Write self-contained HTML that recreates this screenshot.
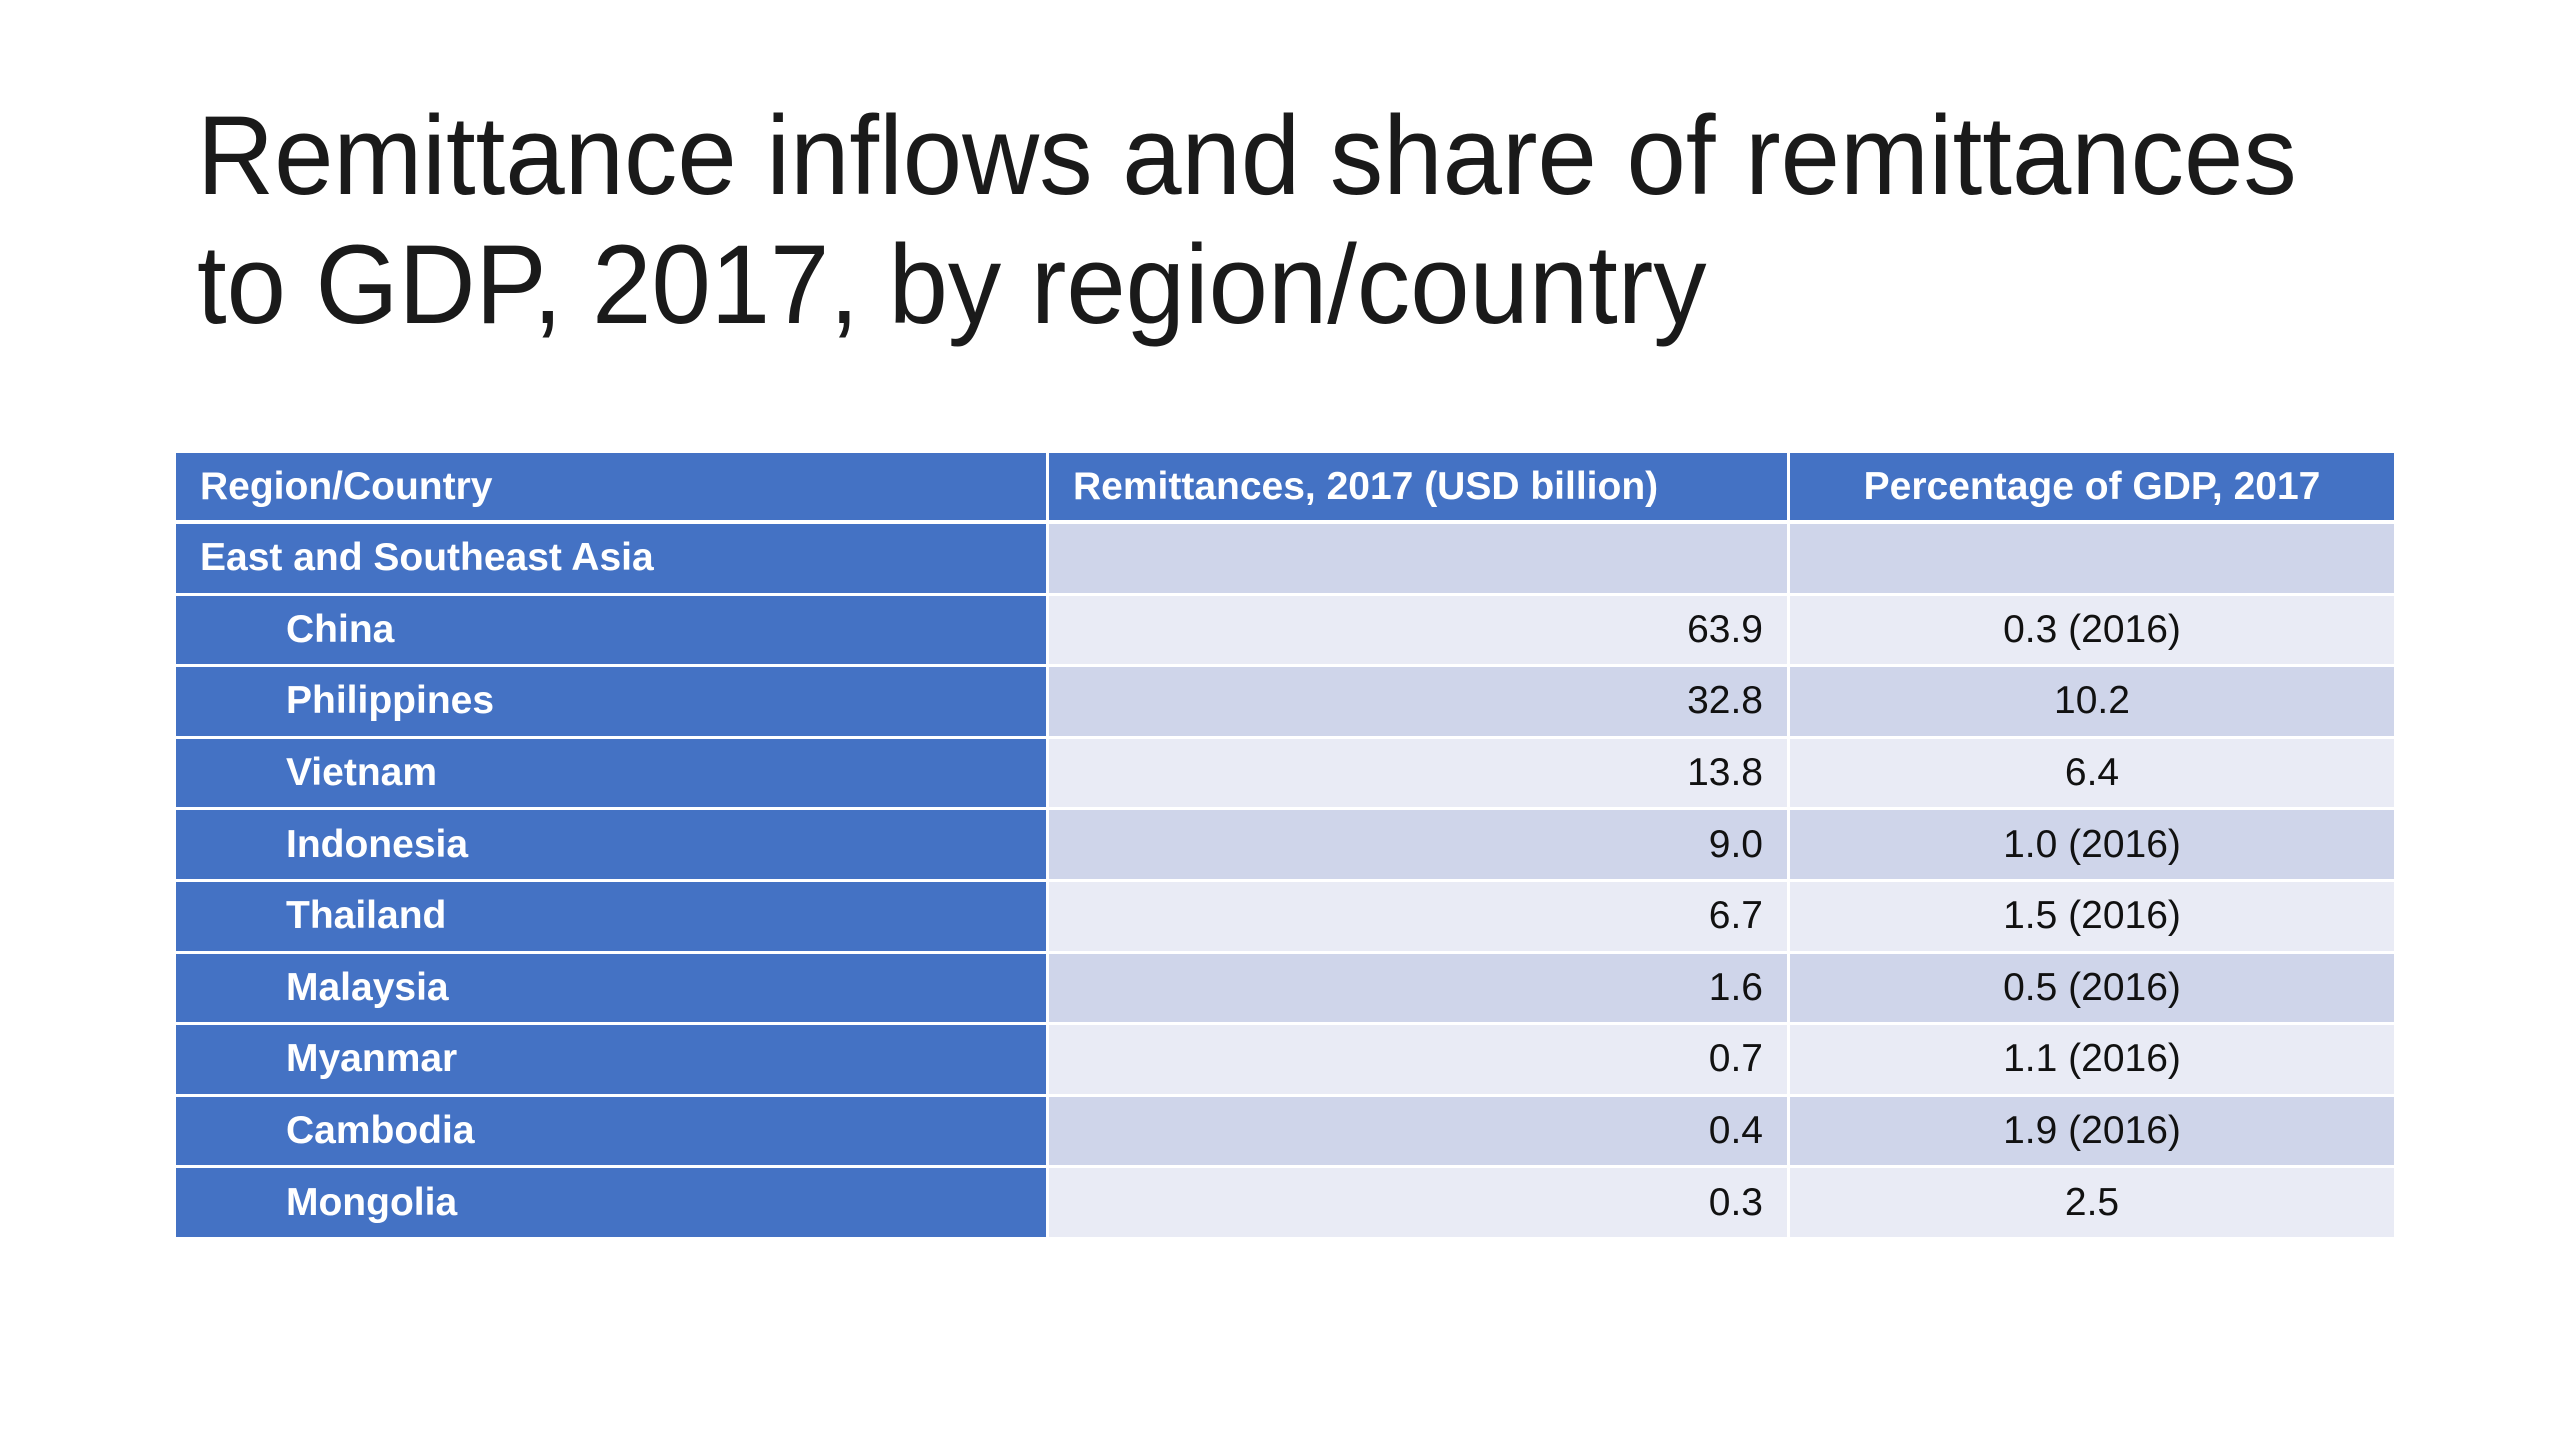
<!DOCTYPE html>
<html><head><meta charset="utf-8">
<style>
html,body{margin:0;padding:0;background:#fff;}
#page{position:relative;width:2560px;height:1440px;overflow:hidden;background:#fff;font-family:"Liberation Sans",sans-serif;}
.title{position:absolute;left:197px;font-size:112px;color:#1a1a1a;white-space:nowrap;transform-origin:0 0;line-height:1;}
.cell{position:absolute;box-sizing:border-box;display:flex;align-items:center;font-size:39px;white-space:nowrap;}
.hdr{background:#4472C4;color:#fff;font-weight:bold;}
.lab{background:#4472C4;color:#fff;font-weight:bold;}
.odd{background:#CFD5EA;color:#111;}
.even{background:#E9EBF5;color:#111;}
</style></head>
<body>
<div id="page">
  <div class="title" id="t1" style="top:100px">Remittance inflows and share of remittances</div>
  <div class="title" id="t2" style="top:229px">to GDP, 2017, by region/country</div>
  <div id="table"></div>
</div>
<script>
const headers = ["Region/Country","Remittances, 2017 (USD billion)","Percentage of GDP, 2017"];
const countries = ["East and Southeast Asia","China","Philippines","Vietnam","Indonesia","Thailand","Malaysia","Myanmar","Cambodia","Mongolia"];
const remittances = ["","63.9","32.8","13.8","9.0","6.7","1.6","0.7","0.4","0.3"];
const gdpShare = ["","0.3 (2016)","10.2","6.4","1.0 (2016)","1.5 (2016)","0.5 (2016)","1.1 (2016)","1.9 (2016)","2.5"];

function fit(id,w){const e=document.getElementById(id);const s=w/e.scrollWidth;e.style.transform='scale('+s+',1)';}
fit('t1',2100);fit('t2',1510);

const tbl=document.getElementById('table');
const colX=[176,1049,1790,2394];
const top0=453, hdrH=67, rowH=71.6, gap=3;
function cell(x,y,w,h,cls,text,align,pad,name){
  const d=document.createElement('div');
  d.className='cell '+cls;
  d.style.left=x+'px';d.style.top=y+'px';d.style.width=w+'px';d.style.height=h+'px';
  d.style.justifyContent=align;
  if(align==='flex-start')d.style.paddingLeft=pad+'px';
  if(align==='flex-end')d.style.paddingRight=pad+'px';
  d.textContent=text;
  
  
  tbl.appendChild(d);
}
// header
cell(colX[0],top0,colX[1]-colX[0]-gap,hdrH,'hdr',headers[0],'flex-start',24,'header-region-country');
cell(colX[1],top0,colX[2]-colX[1]-gap,hdrH,'hdr',headers[1],'flex-start',24,'header-remittances');
cell(colX[2],top0,colX[3]-colX[2],hdrH,'hdr',headers[2],'center',0,'header-gdp-share');
const bodyTop=top0+hdrH+4;
for(let i=0;i<countries.length;i++){
  const y=bodyTop+i*rowH;
  const h=rowH-gap;
  const shade=(i%2===0)?'odd':'even';
  const indent=i===0?24:110;
  const slug=countries[i].toLowerCase().replace(/[^a-z]+/g,'-');
  cell(colX[0],y,colX[1]-colX[0]-gap,h,'lab',countries[i],'flex-start',indent,'row-label-'+slug);
  cell(colX[1],y,colX[2]-colX[1]-gap,h,shade,remittances[i],'flex-end',24,'remittance-value-'+slug);
  cell(colX[2],y,colX[3]-colX[2],h,shade,gdpShare[i],'center',0,'gdp-share-value-'+slug);
}
</script>
</body></html>
